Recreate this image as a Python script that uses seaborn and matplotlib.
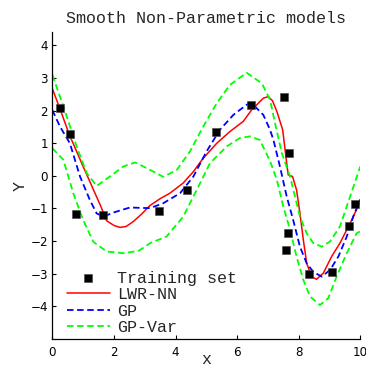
import numpy as np
import pandas as pd
import matplotlib
matplotlib.use("Agg")
import matplotlib.pyplot as plt
import seaborn as sns

# ---- data ----
train_x = [0.25, 0.57, 0.77, 1.66, 3.47, 4.38, 5.30, 6.46, 7.51, 7.68, 7.65, 7.59, 8.32, 9.08, 9.64, 9.82]
train_y = [2.09, 1.27, -1.18, -1.19, -1.07, -0.43, 1.34, 2.18, 2.42, 0.71, -1.74, -2.27, -3.00, -2.95, -1.53, -0.85]

lwr_x = [0.0, 0.25, 0.55, 1.0, 1.55, 1.77, 2.0, 2.2, 2.4, 2.63, 2.9, 3.17, 3.5, 3.82, 4.25, 4.58,
         4.9, 5.34, 5.77, 6.2, 6.47, 6.64, 6.85, 7.01, 7.15, 7.3, 7.48, 7.61, 7.66, 7.8, 7.93,
         8.04, 8.15, 8.26, 8.42, 8.58, 8.8, 9.07, 9.34, 9.67, 10.0]
lwr_y = [2.68, 2.05, 1.27, 0.29, -0.88, -1.38, -1.52, -1.58, -1.55, -1.40, -1.17, -0.91, -0.70, -0.53, -0.22, 0.13,
         0.54, 1.0, 1.36, 1.67, 2.02, 2.18, 2.38, 2.43, 2.30, 1.95, 1.41, 0.39, 0.03, -0.02, -0.43,
         -1.14, -1.96, -2.68, -3.09, -3.17, -2.98, -2.47, -2.06, -1.45, -0.79]

gp_x = [0.0, 0.25, 0.57, 0.9, 1.22, 1.44, 1.66, 2.0, 2.52, 3.17, 3.6, 4.15, 4.58, 5.01, 5.44, 5.88,
        6.31, 6.47, 6.85, 7.07, 7.18, 7.39, 7.61, 7.82, 8.04, 8.26, 8.47, 8.75, 9.02, 9.29, 9.56,
        9.77, 10.0]
gp_y = [2.02, 1.51, 1.0, -0.02, -0.74, -1.15, -1.25, -1.12, -0.97, -0.99, -0.84, -0.53, -0.02, 0.75, 1.41, 1.87,
        2.18, 2.23, 1.87, 1.41, 1.10, 0.29, -0.63, -1.35, -2.17, -2.68, -2.94, -3.09, -2.88, -2.47, -1.86,
        -1.25, -0.72]

up_x = [0.0, 0.36, 0.79, 1.12, 1.44, 1.87, 2.31, 2.69, 3.06, 3.6, 4.04, 4.47, 4.9, 5.34, 5.77, 6.31,
        6.8, 7.07, 7.23, 7.45, 7.72, 7.88, 8.04, 8.26, 8.47, 8.75, 9.02, 9.34, 9.67, 10.0]
up_y = [3.10, 2.13, 0.90, 0.08, -0.31, -0.02, 0.29, 0.41, 0.24, -0.03, 0.18, 0.75, 1.51, 2.23, 2.79, 3.16,
        2.84, 2.33, 1.62, 0.70, -0.02, -0.63, -1.25, -1.76, -2.06, -2.17, -2.01, -1.55, -0.63, 0.29]

lo_x = [0.0, 0.36, 0.68, 1.0, 1.33, 1.77, 2.31, 2.8, 3.18, 3.71, 4.25, 4.69, 5.12, 5.66, 6.09, 6.42,
        6.74, 7.07, 7.29, 7.5, 7.72, 7.93, 8.15, 8.37, 8.69, 8.96, 9.23, 9.56, 9.88, 10.0]
lo_y = [0.85, 0.49, -0.53, -1.35, -2.02, -2.32, -2.37, -2.30, -2.06, -1.86, -1.25, -0.43, 0.39, 0.90, 1.16, 1.21,
        1.10, 0.45, -0.12, -0.94, -1.66, -2.47, -3.19, -3.70, -3.96, -3.75, -3.09, -2.37, -1.76, -1.70]

xticks = [0, 2, 4, 6, 8, 10]
yticks = [-4, -3, -2, -1, 0, 1, 2, 3, 4]

sns.set_style("ticks")
plt.rcParams["font.family"] = ["DejaVu Sans"]
mono = "Liberation Mono"

fig = plt.figure(figsize=(3.66, 3.67), dpi=100)
ax = fig.add_axes([52.3 / 366, 1 - 339 / 367, 308 / 366, (339 - 32.3) / 367])

train = pd.DataFrame({"x": train_x, "y": train_y})
lwr = pd.DataFrame({"x": lwr_x, "y": lwr_y})
gp = pd.DataFrame({"x": gp_x, "y": gp_y})
up = pd.DataFrame({"x": up_x, "y": up_y})
lo = pd.DataFrame({"x": lo_x, "y": lo_y})

sns.scatterplot(data=train, x="x", y="y", marker="s", color="black", s=32,
                edgecolor="#444444", linewidth=0.4, label="Training set", ax=ax, zorder=3)
sns.lineplot(data=lwr, x="x", y="y", color="#ff0000", lw=1.1, sort=False, estimator=None,
             label="LWR-NN", ax=ax)
sns.lineplot(data=gp, x="x", y="y", color="#0000ff", lw=1.3, sort=False, estimator=None,
             linestyle=(0, (3.6, 2.0)), label="GP", ax=ax)
sns.lineplot(data=up, x="x", y="y", color="#00ff00", lw=1.3, sort=False, estimator=None,
             linestyle=(0, (3.6, 2.0)), label="GP-Var", ax=ax)
sns.lineplot(data=lo, x="x", y="y", color="#00ff00", lw=1.3, sort=False, estimator=None,
             linestyle=(0, (3.6, 2.0)), ax=ax)

ax.set_xlim(0, 10)
ax.set_ylim(-5, 4.4)
ax.set_xticks(xticks)
ax.set_yticks(yticks)
ax.set_xticklabels([str(t) for t in xticks])
ax.set_yticklabels([str(t).replace("-", "\u2212") for t in yticks])
ax.tick_params(direction="in", length=3, width=0.8, labelsize=8.6, colors="black")
ax.tick_params(axis="x", pad=5)
ax.tick_params(axis="y", pad=3)
for s in ["top", "right"]:
    ax.spines[s].set_visible(False)
for s in ["left", "bottom"]:
    ax.spines[s].set_linewidth(0.9)
    ax.spines[s].set_color("black")

ax.set_title("Smooth Non-Parametric models", fontsize=12, family=mono, pad=7)
ax.set_xlabel("x", fontsize=12, family=mono)
ax.set_ylabel("Y", fontsize=12, family=mono)
ax.xaxis.set_label_coords(0.5, -0.044)
ax.yaxis.set_label_coords(-0.08, 0.5)

ax.legend(loc="lower left", bbox_to_anchor=(0.047, 0.012), frameon=False, borderpad=0,
          borderaxespad=0, handlelength=2.6, handletextpad=0.4, labelspacing=0.09,
          prop={"family": mono, "size": 12})

fig.savefig("out.png", dpi=100)
